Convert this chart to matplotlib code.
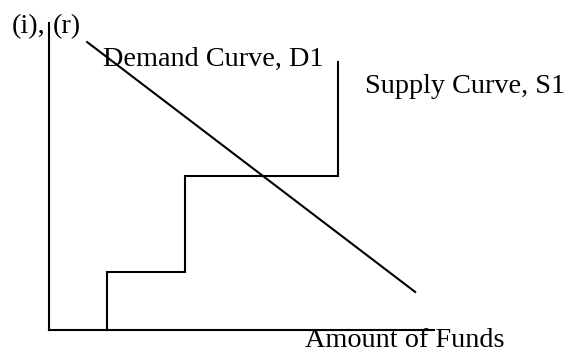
import matplotlib
matplotlib.use("Agg")
import matplotlib.pyplot as plt

# Supply curve (step function) in abstract units
supply_x = [1.51, 1.51, 3.53, 3.53, 7.51, 7.51]
supply_y = [0.0, 1.89, 1.89, 5.02, 5.02, 8.73]

# Demand curve (straight line)
demand_x = [0.99, 9.51]
demand_y = [9.38, 1.24]

# Axes lines
xaxis_x = [0.0, 10.0]
xaxis_y = [0.0, 0.0]
yaxis_x = [0.0, 0.0]
yaxis_y = [0.0, 10.0]

labels = {
    "y1": "(i),",
    "y2": "(r)",
    "demand": "Demand Curve, D1",
    "supply": "Supply Curve, S1",
    "x": "Amount of Funds",
}

fig = plt.figure(figsize=(5.73, 3.52), dpi=100)
ax = fig.add_axes([0, 0, 1, 1])
ax.set_xlim(-1.273, 13.61)
ax.set_ylim(-0.717, 10.75)
ax.axis("off")

lw = 1.5
ax.plot(xaxis_x, xaxis_y, color="black", lw=lw, solid_capstyle="projecting")
ax.plot(yaxis_x, yaxis_y, color="black", lw=lw, solid_capstyle="projecting")
ax.plot(supply_x, supply_y, color="black", lw=lw, solid_joinstyle="miter")
ax.plot(demand_x, demand_y, color="black", lw=lw)

font = dict(family="Liberation Serif", fontsize=20.3, color="black")
ax.text(-0.961, 9.67, labels["y1"], ha="left", va="baseline", **font)
ax.text(0.104, 9.67, labels["y2"], ha="left", va="baseline", **font)
ax.text(1.40, 8.60, labels["demand"], ha="left", va="baseline", **font)
ax.text(8.21, 7.72, labels["supply"], ha="left", va="baseline", **font)
ax.text(6.65, -0.554, labels["x"], ha="left", va="baseline", **font)

fig.savefig("out.png", dpi=100)
